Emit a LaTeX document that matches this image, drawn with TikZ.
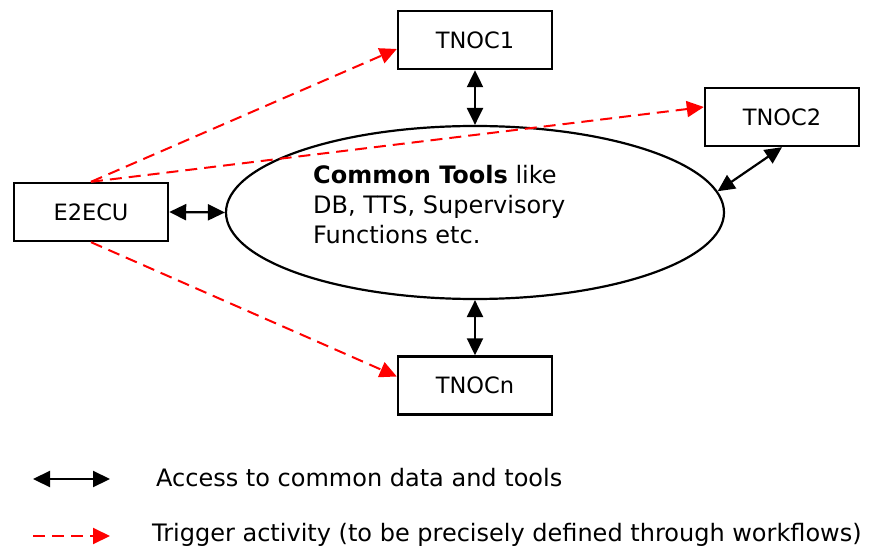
\documentclass[tikz,border=0pt]{standalone}
\usepackage{fontspec}
\setmainfont{DejaVu Sans}
\usetikzlibrary{arrows.meta,shapes.geometric}
\tikzset{
  box/.style={draw=black,line width=2.4pt,minimum width=154pt,minimum height=58pt,inner sep=0pt,font=\fontsize{22.5}{26}\selectfont},
  cloud/.style={draw=black,line width=2.2pt,ellipse,minimum width=498pt,minimum height=173pt,inner sep=0pt},
  access/.style={line width=2.2pt,{Triangle[length=17pt,width=16pt]}-{Triangle[length=17pt,width=16pt]}},
  trigger/.style={red,line width=2pt,dash pattern=on 12pt off 7pt,-{Triangle[length=17pt,width=16pt]}},
  txt/.style={font=\fontsize{24}{30}\selectfont,inner sep=0pt}
}
\begin{document}
\begin{tikzpicture}[x=1pt,y=-1pt]
\useasboundingbox (0,0) rectangle (870,548);
\node[box] (t1) at (475,40) {TNOC1};
\node[box] (t2) at (782,117) {TNOC2};
\node[box] (e2) at (91,212) {E2ECU};
\node[box] (tn) at (475,385.5) {TNOCn};
\node[cloud] (ct) at (475,212.5) {};
\node[txt,anchor=west,align=left] (ctl) at (313,205) {\textbf{Common Tools} like\\DB, TTS, Supervisory\\Functions etc.};
\draw[access] (t1.south) -- (ct.north);
\draw[access] (ct.south) -- (tn.north);
\draw[access] (e2.east) -- (ct.west);
\draw[access] (t2.south) -- (ct.5);
\draw[trigger] (e2.north) -- ([yshift=-9pt]t1.west);
\draw[trigger] (e2.north) -- ([yshift=10pt]t2.west);
\draw[trigger] (e2.south) -- ([yshift=9pt]tn.west);
\coordinate (l1a) at (33,479);
\coordinate (l1b) at (110,479);
\coordinate (l2a) at (33,536);
\coordinate (l2b) at (110,536);
\draw[access] (l1a) -- (l1b);
\draw[trigger] (l2a) -- (l2b);
\node[txt,anchor=west] (lt1) at (156,478) {Access to common data and tools};
\node[txt,anchor=west] (lt2) at (152,535) {Trigger activity (to be precisely defined through workflows)};
\end{tikzpicture}
\end{document}
